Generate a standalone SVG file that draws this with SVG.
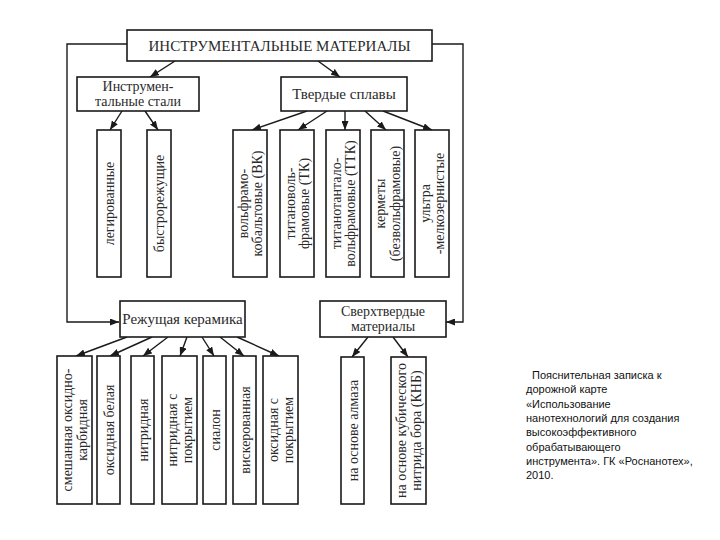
<svg xmlns="http://www.w3.org/2000/svg" width="720" height="540" viewBox="0 0 720 540">
<defs>
<marker id="ah" markerUnits="userSpaceOnUse" markerWidth="9" markerHeight="7" refX="9" refY="3.5" orient="auto">
<path d="M0,0 L9,3.5 L0,7 z" fill="#1a1a1a"/>
</marker>
<style>
.box{fill:#fff;stroke:#1a1a1a;stroke-width:1.6}
.t{font-family:"Liberation Serif","Times New Roman",serif;font-size:15px;fill:#2a2a2a;text-anchor:middle}
.s{font-size:14px}
.v{font-family:"Liberation Serif","Times New Roman",serif;font-size:14px;fill:#2a2a2a;text-anchor:middle}
.a{fill:none;stroke:#1a1a1a;stroke-width:1.4;marker-end:url(#ah)}
.n{font-family:"Liberation Sans",Arial,sans-serif;font-size:11px;fill:#111}
</style>
</defs>
<rect width="720" height="540" fill="#fff"/>
<g id="connectors">
<polyline class="a" points="127,44 67,44 67,322 119,322"/>
<polyline class="a" points="432,44 463,44 463,322 446,322"/>
<line class="a" x1="175" y1="61" x2="150" y2="77"/>
<line class="a" x1="318" y1="61" x2="340" y2="77"/>
<line class="a" x1="122" y1="111" x2="110" y2="130"/>
<line class="a" x1="145" y1="111" x2="158" y2="130"/>
<line class="a" x1="307" y1="111" x2="252" y2="130"/>
<line class="a" x1="327" y1="111" x2="298" y2="130"/>
<line class="a" x1="345" y1="111" x2="345" y2="130"/>
<line class="a" x1="365" y1="111" x2="386" y2="130"/>
<line class="a" x1="383" y1="111" x2="432" y2="130"/>
<line class="a" x1="127" y1="337" x2="76" y2="356"/>
<line class="a" x1="152" y1="337" x2="110" y2="356"/>
<line class="a" x1="168" y1="337" x2="143" y2="356"/>
<line class="a" x1="187" y1="337" x2="180" y2="356"/>
<line class="a" x1="202" y1="337" x2="214" y2="356"/>
<line class="a" x1="220" y1="337" x2="244" y2="356"/>
<line class="a" x1="237" y1="337" x2="279" y2="356"/>
<line class="a" x1="368" y1="337" x2="352" y2="357"/>
<line class="a" x1="393" y1="337" x2="408" y2="357"/>
</g>
<g id="root"><rect class="box" x="127" y="30" width="305" height="31"/><text class="t" x="279.5" y="51">ИНСТРУМЕНТАЛЬНЫЕ МАТЕРИАЛЫ</text></g>
<g id="steels"><rect class="box" x="77" y="77" width="122" height="34"/><text class="t s" x="138" y="91">Инструмен-</text><text class="t s" x="138" y="106">тальные стали</text></g>
<g id="hard"><rect class="box" x="281" y="77" width="126" height="34"/><text class="t" x="344" y="99">Твердые сплавы</text></g>
<g id="ceramics"><rect class="box" x="120" y="301" width="125" height="36"/><text class="t" x="182.5" y="324">Режущая керамика</text></g>
<g id="superhard"><rect class="box" x="320" y="301" width="126" height="36"/><text class="t s" x="383" y="316">Сверхтвердые</text><text class="t s" x="383" y="331">материалы</text></g>

<g id="s1"><rect class="box" x="97" y="130" width="24" height="147"/><text class="v" transform="translate(109,203.5) rotate(-90)" y="5">легированные</text></g>
<g id="s2"><rect class="box" x="147" y="130" width="24" height="147"/><text class="v" transform="translate(159,203.5) rotate(-90)" y="5">быстрорежущие</text></g>

<g id="h1"><rect class="box" x="233" y="130" width="34" height="147"/><text class="v" transform="translate(250,203.5) rotate(-90)"><tspan x="0" y="-2.5">вольфрамо-</tspan><tspan x="0" y="12">кобальтовые (ВК)</tspan></text></g>
<g id="h2"><rect class="box" x="280" y="130" width="34" height="147"/><text class="v" transform="translate(297,203.5) rotate(-90)"><tspan x="0" y="-2.5">титановоль-</tspan><tspan x="0" y="12">фрамовые (ТК)</tspan></text></g>
<g id="h3"><rect class="box" x="326" y="130" width="34" height="147"/><text class="v" transform="translate(343,203.5) rotate(-90)"><tspan x="0" y="-2.5">титанотантало-</tspan><tspan x="0" y="12">вольфрамовые (ТТК)</tspan></text></g>
<g id="h4"><rect class="box" x="371" y="130" width="33" height="147"/><text class="v" transform="translate(387.5,203.5) rotate(-90)"><tspan x="0" y="-2.5">керметы</tspan><tspan x="0" y="12">(безвольфрамовые)</tspan></text></g>
<g id="h5"><rect class="box" x="415" y="130" width="34" height="147"/><text class="v" transform="translate(432,203.5) rotate(-90)"><tspan x="0" y="-2.5">ультра</tspan><tspan x="0" y="12">-мелкозернистые</tspan></text></g>

<g id="c1"><rect class="box" x="57" y="356" width="35" height="148"/><text class="v" transform="translate(74.5,430) rotate(-90)"><tspan x="0" y="-2.5">смешанная оксидно-</tspan><tspan x="0" y="12">карбидная</tspan></text></g>
<g id="c2"><rect class="box" x="97" y="356" width="23" height="148"/><text class="v" transform="translate(108.5,430) rotate(-90)" y="5">оксидная белая</text></g>
<g id="c3"><rect class="box" x="131" y="356" width="23" height="148"/><text class="v" transform="translate(142.5,430) rotate(-90)" y="5">нитридная</text></g>
<g id="c4"><rect class="box" x="162" y="356" width="35" height="148"/><text class="v" transform="translate(179.5,430) rotate(-90)"><tspan x="0" y="-2.5">нитридная с</tspan><tspan x="0" y="12">покрытием</tspan></text></g>
<g id="c5"><rect class="box" x="203" y="356" width="23" height="148"/><text class="v" transform="translate(214.5,430) rotate(-90)" y="5">сиалон</text></g>
<g id="c6"><rect class="box" x="233" y="356" width="23" height="148"/><text class="v" transform="translate(244.5,430) rotate(-90)" y="5">вискерованная</text></g>
<g id="c7"><rect class="box" x="263" y="356" width="35" height="148"/><text class="v" transform="translate(280.5,430) rotate(-90)"><tspan x="0" y="-2.5">оксидная с</tspan><tspan x="0" y="12">покрытием</tspan></text></g>

<g id="d1"><rect class="box" x="341" y="357" width="23" height="147"/><text class="v" transform="translate(352.5,430.5) rotate(-90)" y="5">на основе алмаза</text></g>
<g id="d2"><rect class="box" x="391" y="357" width="35" height="147"/><text class="v" transform="translate(408.5,430.5) rotate(-90)"><tspan x="0" y="-2.5">на основе кубического</tspan><tspan x="0" y="12">нитрида бора (КНБ)</tspan></text></g>

<g id="note">
<text class="n" x="532" y="379"> Пояснительная записка к</text>
<text class="n" x="526" y="393.3">дорожной карте</text>
<text class="n" x="526" y="407.6">«Использование</text>
<text class="n" x="526" y="421.9">нанотехнологий для создания</text>
<text class="n" x="526" y="436.2">высокоэффективного</text>
<text class="n" x="526" y="450.5">обрабатывающего</text>
<text class="n" x="526" y="464.8">инструмента». ГК «Роснанотех»,</text>
<text class="n" x="526" y="479.1">2010.</text>
</g>
</svg>
